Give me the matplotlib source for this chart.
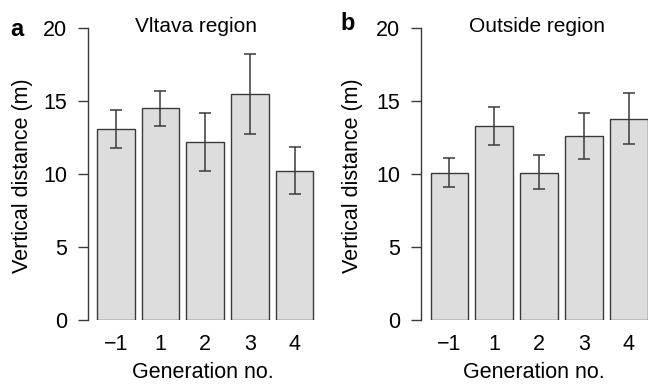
"""
Bar charts of vertical distance by generation, Vltava region vs outside region
"""

import matplotlib.pyplot as plt

#---------------------------------------------------------------------------------------------------
# Data
#---------------------------------------------------------------------------------------------------

generations = ['\u22121', '1', '2', '3', '4']

vltava_mean = [13.05, 14.5, 12.2, 15.45, 10.2]
vltava_lo = [11.75, 13.3, 10.2, 12.75, 8.65]
vltava_hi = [14.35, 15.7, 14.15, 18.2, 11.85]

outside_mean = [10.1, 13.3, 10.1, 12.6, 13.8]
outside_lo = [9.1, 12.0, 8.95, 11.0, 12.05]
outside_hi = [11.1, 14.6, 11.3, 14.2, 15.55]

#---------------------------------------------------------------------------------------------------
# Plot
#---------------------------------------------------------------------------------------------------

plt.rcParams['font.family'] = ['Liberation Sans', 'DejaVu Sans']
fontsize = 15.5
dark = '#3a3a3a'

fig = plt.figure(figsize=(6.48, 3.85), dpi=100)
W, H = 648., 385.

panels = [
    {'rect': [88/W, 65/H, 229/W, 292/H], 'xlim': (-0.62, 4.5), 'title': 'Vltava region',
     'mean': vltava_mean, 'lo': vltava_lo, 'hi': vltava_hi, 'letter': 'a',
     'letter_xy': (16.5, 30), 'title_x': 196, 'ylab_x': 22.5},
    {'rect': [421/W, 65/H, 226.5/W, 292/H], 'xlim': (-0.636, 4.42), 'title': 'Outside region',
     'mean': outside_mean, 'lo': outside_lo, 'hi': outside_hi, 'letter': 'b',
     'letter_xy': (347.5, 24), 'title_x': 537, 'ylab_x': 352.5},
]

for p in panels:
    ax = fig.add_axes(p['rect'])
    x = list(range(len(generations)))
    yerr = [[m - l for m, l in zip(p['mean'], p['lo'])],
            [h - m for m, h in zip(p['mean'], p['hi'])]]
    ax.bar(x, p['mean'], width=0.84, color='#dddddd', edgecolor=dark, linewidth=1.0, zorder=2)
    ax.errorbar(x, p['mean'], yerr=yerr, fmt='none', ecolor=dark, elinewidth=1.1,
                capsize=4, capthick=1.1, zorder=3)

    ax.set_xlim(*p['xlim'])
    ax.set_ylim(0, 20)
    ax.set_yticks([0, 5, 10, 15, 20])
    ax.set_xticks(x)
    ax.set_xticklabels(generations)
    for s in ['top', 'right', 'bottom']:
        ax.spines[s].set_visible(False)
    ax.spines['left'].set_color(dark)
    ax.spines['left'].set_linewidth(1.0)
    ax.tick_params(axis='y', length=7, width=1.0, color=dark, pad=8, labelsize=fontsize)
    ax.tick_params(axis='x', length=0, pad=10, labelsize=fontsize)
    ax.set_xlabel('Generation no.', size=fontsize, labelpad=5)
    ax.patch.set_visible(False)

    fig.text(p['ylab_x']/W, 1 - 176/H, 'Vertical distance (m)', rotation=90,
             ha='center', va='center', size=fontsize)
    fig.text(p['title_x']/W, 1 - 27/H, p['title'], ha='center', va='center', size=15)
    fig.text(p['letter_xy'][0]/W, 1 - p['letter_xy'][1]/H, p['letter'], ha='center', va='center',
             size=17, weight='bold')

plt.savefig('out.png', dpi=100)
plt.close()
